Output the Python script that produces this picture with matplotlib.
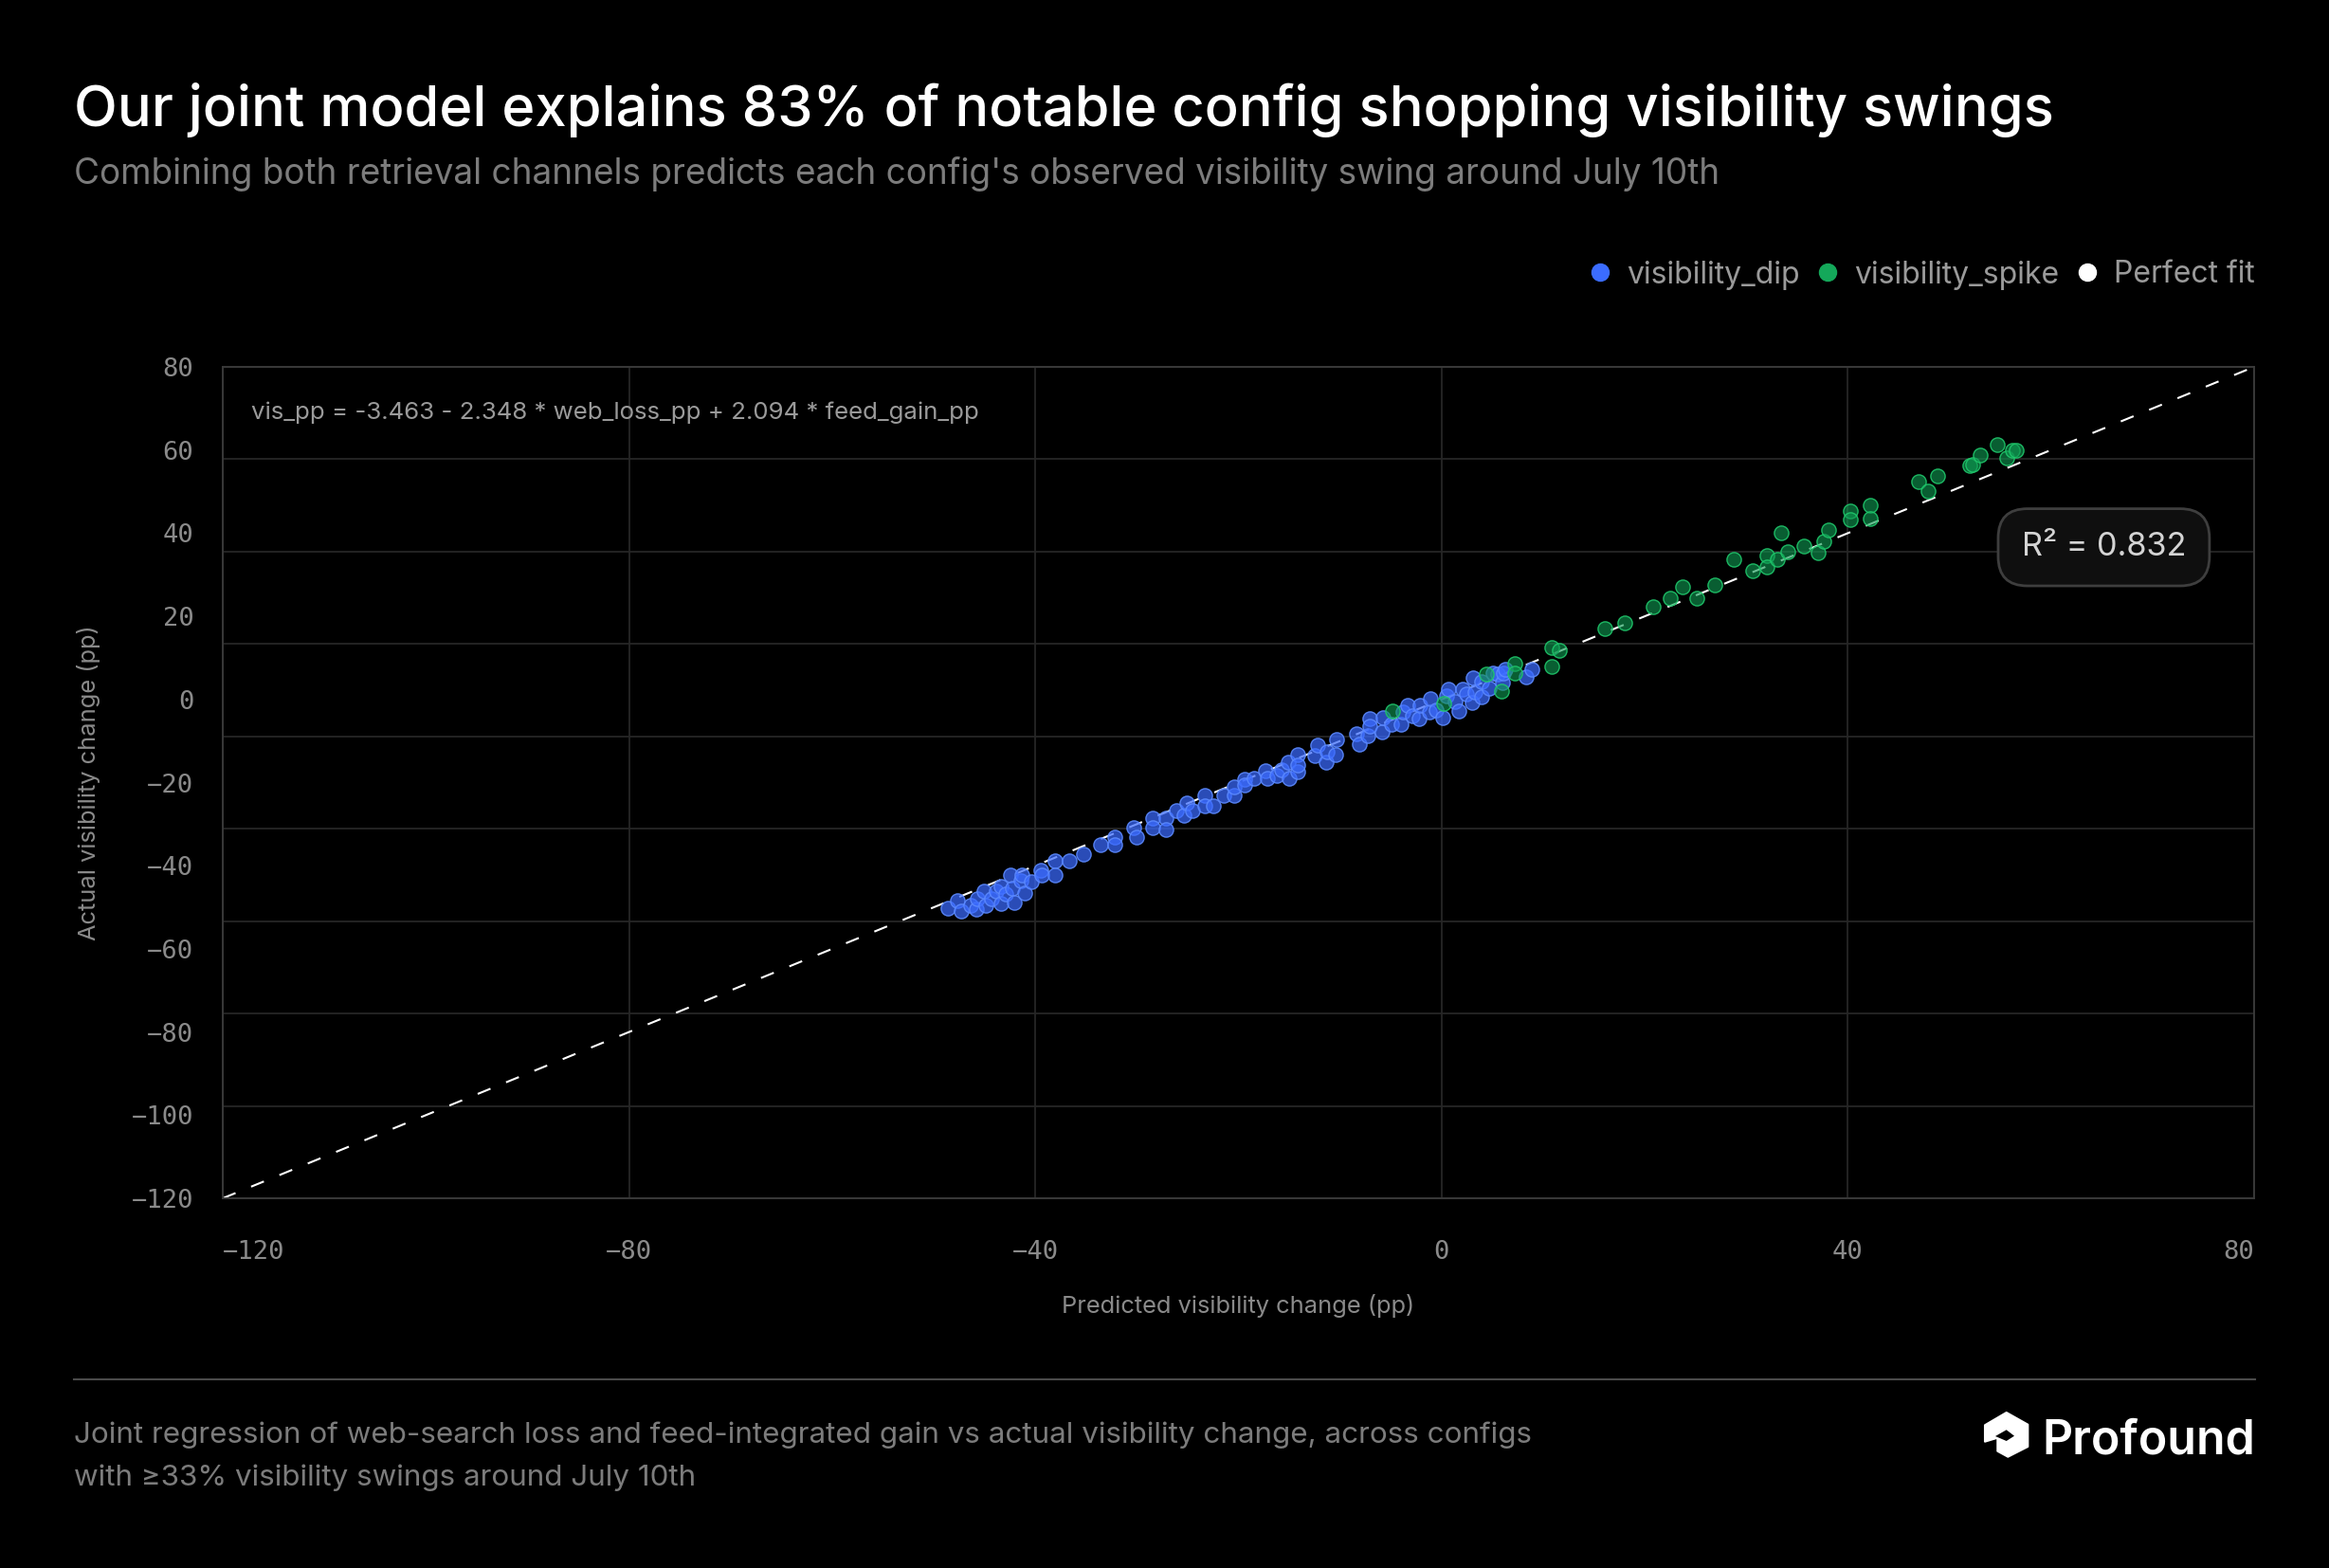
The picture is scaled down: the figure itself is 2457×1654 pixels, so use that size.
import numpy as np
import matplotlib
matplotlib.use("Agg")
import matplotlib.pyplot as plt
from matplotlib.lines import Line2D
from matplotlib.patches import Polygon

W, H, DPI = 2457, 1654, 100

# predicted vs actual visibility change (pp)
dip_pred = [-48.6, -47.7, -47.3, -46.4, -45.8, -45.7, -45.1, -44.9, -44.3, -43.8,
            -43.4, -43.4, -42.9, -42.4, -42.3, -42.1, -41.4, -41.3, -41.0, -40.4,
            -39.5, -39.4, -38.1, -38.1, -36.7, -35.3, -33.6, -32.2, -32.2, -30.3,
            -30.0, -28.4, -28.4, -27.1, -27.1, -26.1, -25.4, -25.1, -24.5, -23.3,
            -23.3, -22.5, -21.4, -20.4, -20.4, -19.4, -19.4, -18.5, -17.3, -17.2,
            -16.2, -15.8, -15.1, -15.0, -14.2, -14.2, -14.2, -12.5, -12.2, -11.4,
            -11.3, -10.4, -10.3, -8.4, -8.1, -7.3, -7.1, -7.1, -5.9, -5.8,
            -4.9, -4.0, -3.8, -3.3, -2.9, -2.2, -2.1, -1.2, -1.1, -0.5,
            0.1, 0.5, 0.7, 1.3, 1.7, 2.1, 2.4, 3.0, 3.1, 3.3,
            3.9, 3.9, 4.7, 5.1, 5.5, 6.0, 6.1, 6.3, 8.3, 8.9]
dip_actual = [-50.3, -48.4, -50.8, -49.5, -50.5, -48.0, -46.1, -49.5, -48.0, -46.1,
              -49.0, -45.0, -46.9, -42.2, -45.4, -48.8, -43.7, -42.2, -46.5, -43.8,
              -41.2, -42.3, -38.8, -42.2, -38.9, -37.2, -34.9, -33.2, -34.9, -30.9,
              -33.2, -28.5, -30.8, -28.5, -31.2, -26.8, -27.9, -24.9, -26.8, -23.0,
              -25.6, -25.6, -23.0, -23.0, -21.1, -19.2, -20.5, -19.0, -17.1, -19.0,
              -18.2, -16.9, -15.0, -19.0, -13.3, -17.4, -15.8, -13.6, -11.1, -15.0,
              -12.7, -13.3, -9.7, -8.2, -10.8, -8.6, -4.7, -6.5, -7.8, -4.4,
              -5.9, -5.9, -2.9, -1.5, -4.0, -4.7, -1.3, -2.9, 0.2, -2.5,
              -4.4, 0.9, 2.4, -0.6, -2.7, 2.4, 1.3, -0.7, 5.1, 1.7,
              0.6, 4.4, 2.6, 6.4, 6.2, 4.0, 6.4, 7.2, 5.5, 7.2]

spike_pred = [-4.8, 0.2, 4.4, 5.9, 7.2, 7.2, 10.8, 11.6, 10.8, 16.1,
              18.0, 20.8, 22.5, 23.7, 25.1, 26.9, 28.8, 30.6, 32.0, 32.0,
              33.1, 33.4, 34.1, 35.7, 37.1, 37.6, 38.1, 40.2, 40.2, 42.2,
              42.2, 47.0, 48.8, 47.9, 52.0, 52.3, 53.0, 54.7, 55.6, 56.2, 56.6]
spike_actual = [-2.7, -1.0, 6.1, 2.1, 8.7, 6.4, 12.5, 11.7, 8.0, 17.0,
                18.5, 22.2, 24.3, 27.0, 24.3, 27.5, 33.7, 30.9, 34.7, 31.9,
                33.6, 40.0, 35.5, 36.8, 35.2, 38.1, 40.8, 45.3, 43.3, 46.7,
                43.6, 52.4, 53.7, 50.2, 56.3, 56.5, 58.8, 61.3, 58.2, 60.0, 60.0]

axis_min, axis_max = -120, 80
x_ticks = [-120, -80, -40, 0, 40, 80]
y_ticks = [80, 60, 40, 20, 0, -20, -40, -60, -80, -100, -120]
legend_labels = ["visibility_dip", "visibility_spike", "Perfect fit"]
equation = "vis_pp = -3.463 - 2.348 * web_loss_pp + 2.094 * feed_gain_pp"
r_squared = 0.832

title = "Our joint model explains 83% of notable config shopping visibility swings"
subtitle = ("Combining both retrieval channels predicts each config's observed "
            "visibility swing around July 10th")
footer_1 = ("Joint regression of web-search loss and feed-integrated gain vs actual "
            "visibility change, across configs")
footer_2 = "with \u226533% visibility swings around July 10th"

BLUE = "#3b6cff"
GREEN = "#14a85a"
GRID = "#262626"
SPINE = "#3c3c3c"
MUTED = "#8a8a8a"

plt.rcParams["font.family"] = ["Inter", "DejaVu Sans"]

fig = plt.figure(figsize=(W / DPI, H / DPI), dpi=DPI, facecolor="black")


def fx(px):
    return px / W


def fy(py):
    return 1 - py / H


ax = fig.add_axes([fx(235), fy(1264), (2378 - 235) / W, (1264 - 387) / H])
ax.set_facecolor("black")
ax.set_xlim(axis_min, axis_max)
ax.set_ylim(axis_min, axis_max)

# grid
for v in x_ticks:
    ax.axvline(v, color=GRID, lw=1.3, zorder=0)
for v in np.linspace(axis_min, axis_max, 10):
    ax.axhline(v, color=GRID, lw=1.3, zorder=0)
for s in ax.spines.values():
    s.set_color(SPINE)
    s.set_linewidth(1.3)

# perfect-fit line
ax.plot([axis_min, axis_max], [axis_min, axis_max], color="white", lw=1.5,
        linestyle=(0, (7, 8.5)), zorder=2)

ax.scatter(dip_pred, dip_actual, s=120, facecolor=(0.23, 0.42, 1.0, 0.72),
           edgecolor=(0.36, 0.54, 1.0, 0.9), linewidth=1.0, zorder=3)
ax.scatter(spike_pred, spike_actual, s=120, facecolor=(0.06, 0.60, 0.32, 0.62),
           edgecolor=(0.12, 0.78, 0.42, 0.9), linewidth=1.0, zorder=4)

ax.set_xticks(x_ticks)
ax.set_yticks(y_ticks)
ax.tick_params(length=0, colors=MUTED, labelsize=19.5)
ax.tick_params(axis="y", pad=22)
ax.tick_params(axis="x", pad=32)
for lab in ax.get_xticklabels() + ax.get_yticklabels():
    lab.set_fontfamily("DejaVu Sans Mono")
xl = ax.get_xticklabels()
xl[0].set_ha("left")
xl[-1].set_ha("right")

ax.text(0.0138, 0.945, equation, transform=ax.transAxes, color="#9a9a9a",
        fontsize=18.6, va="center", ha="left")
ax.text(0.926, 0.783, f"R\u00b2 = {r_squared:.3f}", transform=ax.transAxes,
        color="#d4d4d4", fontsize=24.7, va="center", ha="center", zorder=6,
        bbox=dict(boxstyle="round,pad=0.72,rounding_size=0.9", fc="#0f0f0f",
                  ec="#3e3e3e", lw=2))

fig.text(fx(1306), fy(1377), "Predicted visibility change (pp)", color=MUTED,
         fontsize=18.3, ha="center", va="center")
fig.text(fx(94), fy(826), "Actual visibility change (pp)", color=MUTED,
         fontsize=18.3, ha="center", va="center", rotation=90)

# header
fig.text(fx(78), fy(133), title, color="white", fontsize=43, fontweight="medium",
         ha="left", va="baseline")
fig.text(fx(78), fy(194), subtitle, color="#7c7c7c", fontsize=26.6,
         ha="left", va="baseline")

handles = [Line2D([], [], marker="o", ls="none", ms=13, color=BLUE),
           Line2D([], [], marker="o", ls="none", ms=13, color=GREEN),
           Line2D([], [], marker="o", ls="none", ms=13, color="white")]
fig.legend(handles, legend_labels, loc="center right",
           bbox_to_anchor=(fx(2379), fy(290)), ncol=3, frameon=False,
           fontsize=23, labelcolor="#9a9a9a", handlelength=0.8,
           handletextpad=0.5, columnspacing=0.5, borderpad=0, borderaxespad=0)

# footer
fig.add_artist(Line2D([fx(78), fx(2379)], [fy(1455), fy(1455)], color="#4a4a4a",
                      lw=1.5, transform=fig.transFigure))
fig.text(fx(78), fy(1522), footer_1, color="#7c7c7c", fontsize=22.6,
         ha="left", va="baseline")
fig.text(fx(78), fy(1567), footer_2, color="#7c7c7c", fontsize=22.6,
         ha="left", va="baseline")

# logo
logo_outer = [(2116.7, 1490), (2139.3, 1502.7), (2139.3, 1526), (2118.3, 1536.7),
              (2107.3, 1530.7), (2107.3, 1516.7), (2094, 1520.7), (2094, 1503.3)]
logo_notch = [(2105, 1515), (2116.7, 1508.3), (2125, 1514.7), (2116.7, 1520)]
fig.add_artist(Polygon([(fx(a), fy(b)) for a, b in logo_outer], closed=True,
                       fc="white", ec="white", lw=1.5, joinstyle="round",
                       transform=fig.transFigure))
fig.add_artist(Polygon([(fx(a), fy(b)) for a, b in logo_notch], closed=True,
                       fc="black", ec="none", transform=fig.transFigure))
fig.text(fx(2379), fy(1533), "Profound", color="white", fontsize=36,
         fontweight="semibold", ha="right", va="baseline")

fig.savefig("out.png", dpi=DPI, facecolor="black")
